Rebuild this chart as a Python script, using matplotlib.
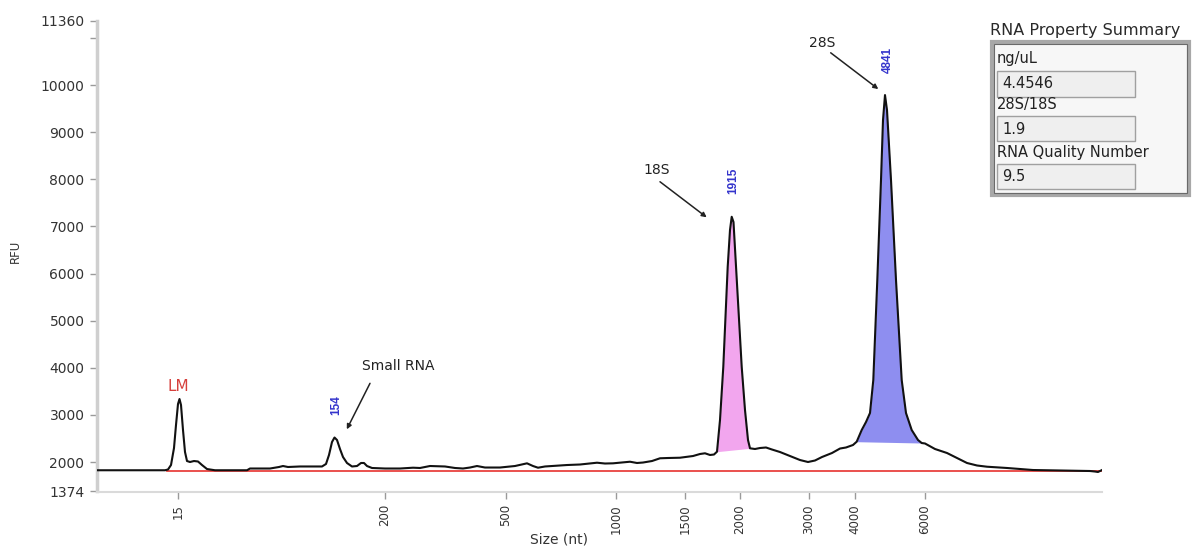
import numpy as np
import matplotlib
matplotlib.use("Agg")
import matplotlib.pyplot as plt
from matplotlib.patches import Rectangle

plt.rcParams['font.family'] = ['DejaVu Sans']

# ---------------- data ----------------
# migration time (arbitrary units) and fluorescence (RFU) of the electropherogram
mig = [15.00, 18.40, 18.55, 18.70, 18.85, 18.95, 19.05, 19.125, 19.20, 19.30,
       19.40, 19.50, 19.65, 19.85, 20.05, 20.25, 20.50, 20.90, 22.50, 22.65,
       23.65, 24.10, 24.30, 24.55, 25.15, 26.25, 26.45, 26.60, 26.75, 26.875,
       27.00, 27.15, 27.30, 27.50, 27.75, 28.00, 28.20, 28.35, 28.50, 28.75,
       29.40, 30.15, 30.80, 31.15, 31.65, 32.40, 32.90, 33.30, 33.65, 34.00,
       34.40, 35.15, 35.90, 36.50, 36.80, 37.05, 37.40, 38.50, 39.15, 40.00,
       40.40, 40.80, 41.25, 41.65, 42.00, 42.30, 42.75, 43.15, 43.55, 44.15,
       44.80, 45.15, 45.40, 45.65, 45.85, 46.00, 46.15, 46.315, 46.535, 46.65,
       46.735, 46.825, 46.95, 47.235, 47.40, 47.55, 47.65, 47.90, 48.15, 48.45,
       48.75, 49.15, 49.65, 50.15, 50.55, 50.90, 51.25, 51.75, 52.15, 52.45,
       52.80, 52.985, 53.235, 53.45, 53.65, 53.815, 54.015, 54.20, 54.30, 54.40,
       54.50, 54.70, 54.95, 55.235, 55.45, 55.735, 56.05, 56.235, 56.40, 56.90,
       57.50, 58.00, 58.50, 59.00, 59.50, 60.50, 61.80, 63.15, 64.65, 64.90,
       65.05, 65.25]
rfu = [1825, 1825, 1841, 1936, 2297, 2785, 3231, 3337, 3210, 2679,
       2212, 2021, 2000, 2021, 2011, 1936, 1851, 1825, 1825, 1862,
       1862, 1894, 1915, 1894, 1905, 1905, 1958, 2149, 2424, 2520,
       2467, 2276, 2106, 1979, 1905, 1915, 1979, 1979, 1915, 1873,
       1862, 1862, 1879, 1873, 1915, 1905, 1873, 1862, 1883, 1915,
       1883, 1883, 1915, 1972, 1915, 1879, 1905, 1936, 1947, 1985,
       1968, 1972, 1989, 2006, 1979, 1989, 2021, 2079, 2085, 2091,
       2127, 2170, 2185, 2149, 2159, 2219, 2891, 4022, 6144, 6923,
       7205, 7093, 6144, 4022, 3103, 2467, 2291, 2276, 2297, 2308,
       2265, 2212, 2127, 2042, 2000, 2032, 2106, 2191, 2286, 2308,
       2361, 2431, 2679, 2849, 3040, 3740, 5862, 7984, 9257, 9788,
       9469, 7984, 5862, 3740, 3040, 2679, 2467, 2403, 2393, 2276,
       2191, 2085, 1979, 1926, 1900, 1873, 1830, 1820, 1809, 1798,
       1788, 1830]

baseline_rfu = 1815
baseline_start = 18.5

# x-axis size ladder (tick positions in migration units, labels in nt)
size_tick_pos = [19.065, 29.40, 35.45, 40.94, 44.40, 47.15, 50.60, 52.90, 56.40]
size_tick_labels = ['15', '200', '500', '1000', '1500', '2000', '3000', '4000', '6000']

y_ticks = [1374, 2000, 3000, 4000, 5000, 6000, 7000, 8000, 9000, 10000, 11360]
y_minor = [11000]

# integrated peak windows
peak_18s = (46.00, 47.65)
peak_28s = (52.985, 56.235)

# peak size labels (x, y, text)
peak_labels = [(26.98, 3203, '154'), (46.815, 7973, '1915'), (54.55, 10537, '4841')]
lm_label = (19.065, 3613, 'LM')

# arrow annotations: text, text pos, arrow tail, arrow head
arrow_notes = [
    ('Small RNA', (30.05, 4037), (28.65, 3670), (27.49, 2694)),
    ('18S', (43.00, 8196), (43.15, 7948), (45.485, 7193)),
    ('28S', (51.235, 10885), (51.685, 10685), (54.065, 9915)),
]

summary_title = 'RNA Property Summary'
summary_fields = ['ng/uL', '28S/18S', 'RNA Quality Number']
summary_values = ['4.4546', '1.9', '9.5']

# ---------------- figure ----------------
W, H = 1192, 548
fig = plt.figure(figsize=(W / 100, H / 100), dpi=100)
ax = fig.add_axes([97 / W, 1 - 491.5 / H, (1102 - 97) / W, (491.5 - 21) / H])

x = np.array(mig)
y = np.array(rfu)

ax.plot([baseline_start, x[-1]], [baseline_rfu, baseline_rfu], color='#e8423f', lw=1.3, zorder=2)


def fill_peak(rng, color):
    x0, x1 = rng
    y0 = np.interp(x0, x, y)
    y1 = np.interp(x1, x, y)
    m = (x >= x0) & (x <= x1)
    xs = x[m]
    ys = y[m]
    chord = np.interp(xs, [x0, x1], [y0, y1])
    ax.fill_between(xs, chord, ys, color=color, lw=0, zorder=1)


fill_peak(peak_18s, '#f2a6ee')
fill_peak(peak_28s, '#8e8ef0')

ax.plot(x, y, color='#111111', lw=1.5, zorder=3)

ax.set_xlim(x[0], x[-1])
ax.set_ylim(1374, 11360)

ax.set_yticks(y_ticks)
ax.set_yticklabels([str(v) for v in y_ticks])
ax.set_yticks(y_minor, minor=True)
ax.set_xticks(size_tick_pos)
ax.set_xticklabels(size_tick_labels, rotation=90)

for s in ['top', 'right']:
    ax.spines[s].set_visible(False)
ax.spines['left'].set_color('#cfcfcf')
ax.spines['left'].set_linewidth(2.5)
ax.spines['bottom'].set_color('#dadada')
ax.spines['bottom'].set_linewidth(1.5)

ax.tick_params(axis='both', which='both', colors='#9a9a9a', length=5, width=1,
               labelcolor='#333333')
ax.tick_params(axis='y', pad=4, labelsize=10)
ax.tick_params(axis='x', pad=4, labelsize=8.5)

ax.set_ylabel('RFU', fontsize=8.5, color='#333333')
ax.yaxis.set_label_coords(-0.075, 0.51)
ax.set_xlabel('Size (nt)', fontsize=10, color='#333333')
ax.xaxis.set_label_coords(0.46, -0.088)

# labels
ax.text(lm_label[0], lm_label[1], lm_label[2], color='#d6403c', fontsize=11,
        ha='center', va='center', zorder=4)
for px_, py_, t in peak_labels:
    ax.text(px_, py_, t, color='#3434cc', fontsize=8.5, fontweight='bold',
            rotation=90, ha='center', va='center', zorder=4,
            family=['Liberation Sans', 'DejaVu Sans'])

for txt, tpos, tail, head in arrow_notes:
    ax.text(tpos[0], tpos[1], txt, fontsize=10, color='#222222', ha='center', va='center')
    ax.annotate('', xy=head, xytext=tail,
                arrowprops=dict(arrowstyle='-|>', color='#222222', lw=1.1,
                                mutation_scale=7, shrinkA=0, shrinkB=0))

# ---------------- summary panel ----------------
def fx(px_):
    return px_ / W


def fy(py_):
    return 1 - py_ / H


fig.text(fx(990), fy(30), summary_title, fontsize=11.5, color='#2a2a2a', ha='left', va='center')
outer = Rectangle((fx(992), fy(195)), fx(1189) - fx(992), fy(42) - fy(195),
                  transform=fig.transFigure, facecolor='#f7f7f7', edgecolor='#a8a8a8', lw=3)
fig.patches.append(outer)
inner = Rectangle((fx(994), fy(193)), fx(1187) - fx(994), fy(44) - fy(193),
                  transform=fig.transFigure, facecolor='none', edgecolor='#6a6a6a', lw=0.8)
fig.patches.append(inner)

label_y = [59, 105, 152]
box_top = [71.5, 116.5, 164]
for i, (lab, val) in enumerate(zip(summary_fields, summary_values)):
    fig.text(fx(997), fy(label_y[i]), lab, fontsize=10.5, color='#222222', ha='left', va='center')
    r = Rectangle((fx(997), fy(box_top[i] + 25)), fx(1135) - fx(997), fy(box_top[i]) - fy(box_top[i] + 25),
                  transform=fig.transFigure, facecolor='#efefef', edgecolor='#a0a0a0', lw=1)
    fig.patches.append(r)
    fig.text(fx(1002), fy(box_top[i] + 12.5), val, fontsize=10.5, color='#222222', ha='left', va='center')

fig.savefig('out.png', dpi=100, facecolor='white')
